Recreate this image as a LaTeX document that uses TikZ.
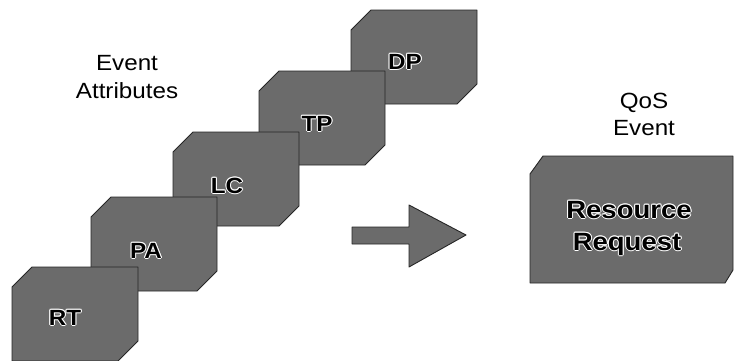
\documentclass[tikz,border=0pt]{standalone}
\usepackage{fontspec}
\setmainfont{Liberation Sans}[FakeStretch=1.1]

% chamfered block: #1 = left edge, #2 = top edge (y grows downwards)
\newcommand\cuboid[2]{%
  \path[blockfill] (#1+20,#2) -- (#1+126,#2) -- (#1+126,#2+74)
    -- (#1+106,#2+94) -- (#1,#2+94) -- (#1,#2+20) -- cycle;}

% bold black text with a thin white halo: #1 name, #2 x,y of the baseline centre, #3 size, #4 text
\newcommand\halotext[4]{%
  \foreach \hx/\hy in {1/0,-1/0,0/1,0/-1,0.7/0.7,-0.7/0.7,0.7/-0.7,-0.7/-0.7}
    \node[txt, text=white, font=\fontsize{#3}{#3}\selectfont\bfseries] at ([shift={(\hx,\hy)}]#2) {#4};
  \node[txt, font=\fontsize{#3}{#3}\selectfont\bfseries] (#1) at (#2) {#4};}

\begin{document}
\begin{tikzpicture}[x=1pt,y=-1pt,
  blockfill/.style={fill=black!58, draw=black!85, line width=0.9pt, line join=round},
  txt/.style={inner sep=0pt, anchor=base, text=black},
  caption/.style={txt, font=\fontsize{22}{22}\selectfont}]
\useasboundingbox[fill=white] (0,0) rectangle (734,360);

% staircase of attribute blocks, back to front
\cuboid{351}{10}
\halotext{dp}{405,69}{22}{DP}
\cuboid{259}{71}
\halotext{tp}{317,131}{22}{TP}
\cuboid{173}{132}
\halotext{lc}{227,193}{22}{LC}
\cuboid{91}{197}
\halotext{pa}{146,258}{22}{PA}
\cuboid{12}{267}
\halotext{rt}{65,325}{22}{RT}

% headings
\node[caption] (ev1) at (127,70.5) {Event};
\node[caption] (ev2) at (127,98) {Attributes};
\node[caption] (qos1) at (644,108) {QoS};
\node[caption] (qos2) at (644,135) {Event};

% block arrow
\path[blockfill] (352,227) -- (409,227) -- (409,205) -- (466,235)
  -- (409,267) -- (409,244) -- (352,244) -- cycle;

% resource request block
\path[blockfill] (543,156) -- (733,156) -- (733,270) -- (725,283)
  -- (530,283) -- (530,174) -- cycle;
\halotext{rr1}{629,218}{25}{Resource}
\halotext{rr2}{627,250}{25}{Request}
\end{tikzpicture}
\end{document}
